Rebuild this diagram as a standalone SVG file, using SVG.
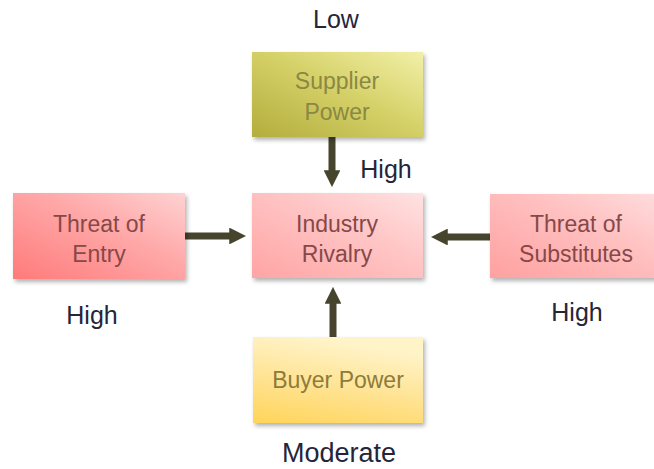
<svg xmlns="http://www.w3.org/2000/svg" width="654" height="469" viewBox="0 0 654 469">
  <defs>
    <linearGradient id="gSup" x1="0" y1="1" x2="1" y2="0">
      <stop offset="0" stop-color="#b3ad3c"/>
      <stop offset="0.55" stop-color="#d6d26a"/>
      <stop offset="1" stop-color="#f2f0a8"/>
    </linearGradient>
    <linearGradient id="gThreat" x1="0" y1="1" x2="1" y2="0">
      <stop offset="0" stop-color="#ff7a7a"/>
      <stop offset="0.6" stop-color="#ffaaaa"/>
      <stop offset="1" stop-color="#ffd2d2"/>
    </linearGradient>
    <linearGradient id="gInd" x1="0" y1="1" x2="1" y2="0">
      <stop offset="0" stop-color="#ffa4a4"/>
      <stop offset="0.6" stop-color="#ffc6c6"/>
      <stop offset="1" stop-color="#ffe2e2"/>
    </linearGradient>
    <linearGradient id="gSub" x1="0" y1="1" x2="1" y2="0">
      <stop offset="0" stop-color="#ffa0a0"/>
      <stop offset="0.6" stop-color="#ffc0c0"/>
      <stop offset="1" stop-color="#ffdcdc"/>
    </linearGradient>
    <linearGradient id="gBuy" x1="0" y1="1" x2="0.3" y2="0">
      <stop offset="0" stop-color="#ffd45a"/>
      <stop offset="0.5" stop-color="#ffe392"/>
      <stop offset="1" stop-color="#fff3c8"/>
    </linearGradient>
    <filter id="sh" x="-10%" y="-10%" width="125%" height="130%">
      <feDropShadow dx="2" dy="3" stdDeviation="2" flood-color="#000" flood-opacity="0.3"/>
    </filter>
    <marker id="ah" viewBox="0 0 10 10" refX="4" refY="5" markerWidth="2.4" markerHeight="2.4" orient="auto" markerUnits="strokeWidth">
      <path d="M0,0 L10,5 L0,10 Z" fill="#46442c"/>
    </marker>
  </defs>
  <style>
    .box { filter: url(#sh); }
    .bt { font-family: "Liberation Sans", Arial, sans-serif; font-size: 23px; text-anchor: middle; }
    .lbl { font-family: "Liberation Sans", Arial, sans-serif; font-size: 25px; fill: #25253a; text-anchor: middle; }
    .conn { stroke: #46442c; stroke-width: 7; fill: none; marker-end: url(#ah); }
  </style>

  <g id="connectors">
    <line class="conn" x1="332" y1="137" x2="332" y2="177"/>
    <line class="conn" x1="185" y1="236" x2="236" y2="236"/>
    <line class="conn" x1="490" y1="237" x2="441" y2="237"/>
    <line class="conn" x1="333" y1="337" x2="333" y2="297"/>
  </g>

  <g id="supplier">
    <rect class="box" x="252" y="52" width="171" height="85" fill="url(#gSup)"/>
    <text class="bt" x="337" y="89" fill="#8a8842">Supplier</text>
    <text class="bt" x="337" y="120" fill="#8a8842">Power</text>
  </g>

  <g id="entry">
    <rect class="box" x="13" y="193" width="172" height="86" fill="url(#gThreat)"/>
    <text class="bt" x="99" y="232" fill="#874848">Threat of</text>
    <text class="bt" x="99" y="262" fill="#874848">Entry</text>
  </g>

  <g id="rivalry">
    <rect class="box" x="252" y="193" width="171" height="85" fill="url(#gInd)"/>
    <text class="bt" x="337" y="232" fill="#874848">Industry</text>
    <text class="bt" x="337" y="262" fill="#874848">Rivalry</text>
  </g>

  <g id="substitutes">
    <rect class="box" x="490" y="194" width="166" height="84" fill="url(#gSub)"/>
    <text class="bt" x="576" y="232" fill="#874848">Threat of</text>
    <text class="bt" x="576" y="262" fill="#874848">Substitutes</text>
  </g>

  <g id="buyer">
    <rect class="box" x="253" y="337" width="170" height="86" fill="url(#gBuy)"/>
    <text class="bt" x="338" y="388" fill="#8c7b3c">Buyer Power</text>
  </g>

  <g id="labels">
    <text class="lbl" x="336" y="28">Low</text>
    <text class="lbl" x="386" y="178">High</text>
    <text class="lbl" x="92" y="324">High</text>
    <text class="lbl" x="577" y="321">High</text>
    <text class="lbl" x="339" y="462" style="font-size:27px">Moderate</text>
  </g>
</svg>
